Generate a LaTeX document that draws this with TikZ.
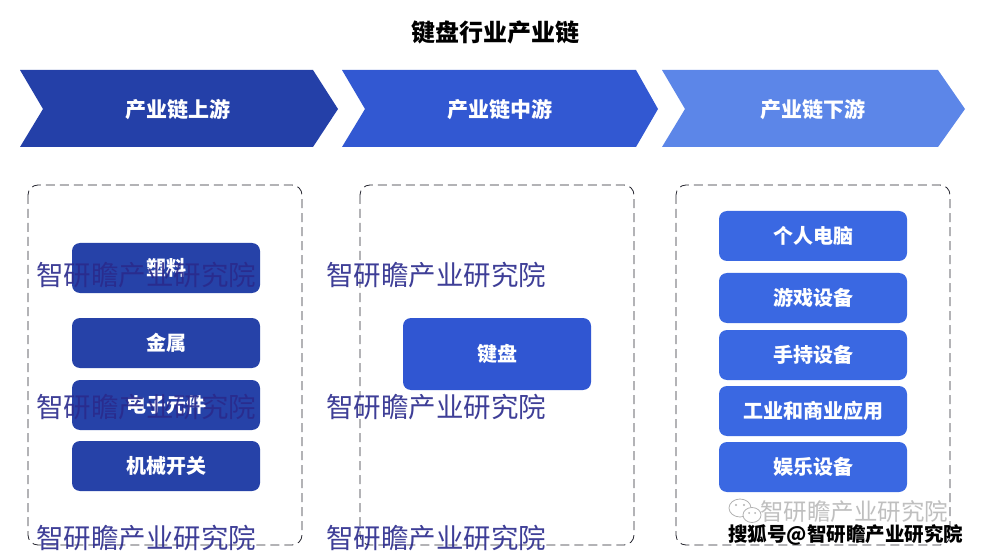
\documentclass[tikz,border=0pt]{standalone}
\usepackage{fontspec}
\setmainfont{Noto Sans CJK SC}
\usetikzlibrary{shapes.geometric}
\definecolor{upc}{RGB}{36,64,168}
\definecolor{midc}{RGB}{50,88,210}
\definecolor{downc}{RGB}{92,134,232}
\definecolor{boxa}{RGB}{38,66,168}
\definecolor{boxb}{RGB}{48,86,210}
\definecolor{boxc}{RGB}{58,104,226}
\definecolor{wmc}{RGB}{42,42,140}
\definecolor{dashc}{RGB}{40,40,50}
\tikzset{
  chev/.style={font=\bfseries\fontsize{21}{21}\selectfont, text=white},
  item/.style={rounded corners=8pt, minimum width=188pt, minimum height=50pt, inner sep=0pt, text=white, font=\bfseries\fontsize{20}{20}\selectfont, draw=none},
  frame/.style={draw=dashc, dash pattern=on 9pt off 5pt, rounded corners=10pt, line width=0.8pt},
  wm/.style={text=wmc, opacity=0.9, font=\fontsize{27.5}{27.5}\selectfont, inner sep=0pt, anchor=west}
}
\begin{document}
\begin{tikzpicture}[x=1pt,y=-1pt]
\useasboundingbox (0,0) rectangle (983,556);
\fill[white] (0,0) rectangle (983,556);
% title
\node[font=\bfseries\fontsize{24}{24}\selectfont] (title) at (495,32) {键盘行业产业链};
% chevrons
\fill[upc] (20,70) -- (313,70) -- (338,109) -- (313,147) -- (20,147) -- (43,109) -- cycle;
\fill[midc] (342,70) -- (636,70) -- (658,109) -- (636,147) -- (342,147) -- (365,109) -- cycle;
\fill[downc] (662,70) -- (938,70) -- (965,109) -- (938,147) -- (662,147) -- (685,109) -- cycle;
\node[chev] (c1) at (178,110) {产业链上游};
\node[chev] (c2) at (500,110) {产业链中游};
\node[chev] (c3) at (813,110) {产业链下游};
% frames
\draw[frame] (28,185) rectangle (302,545);
\draw[frame] (360,185) rectangle (634,545);
\draw[frame] (676,185) rectangle (950,545);
% upstream items
\node[item, fill=boxa] (a1) at (166,268) {塑料};
\node[item, fill=boxa] (a2) at (166,343) {金属};
\node[item, fill=boxa] (a3) at (166,405) {电子元件};
\node[item, fill=boxa] (a4) at (166,466) {机械开关};
% midstream
\node[item, fill=boxb, minimum height=72pt] (b1) at (497,354) {键盘};
% downstream
\node[item, fill=boxc] (d1) at (813,236) {个人电脑};
\node[item, fill=boxc] (d2) at (813,298) {游戏设备};
\node[item, fill=boxc] (d3) at (813,355) {手持设备};
\node[item, fill=boxc] (d4) at (813,411) {工业和商业应用};
\node[item, fill=boxc] (d5) at (813,467) {娱乐设备};
% watermarks
\node[wm] (w1) at (36,275) {智研瞻产业研究院};
\node[wm] (w2) at (326,275) {智研瞻产业研究院};
\node[wm] (w3) at (36,407) {智研瞻产业研究院};
\node[wm] (w4) at (326,407) {智研瞻产业研究院};
\node[wm] (w5) at (36,538) {智研瞻产业研究院};
\node[wm] (w6) at (326,538) {智研瞻产业研究院};
% wechat icon
\draw[gray!60, line width=0.8pt, fill=white] (740,508) ellipse (11pt and 9pt);
\draw[gray!60, line width=0.8pt, fill=white] (752,515) ellipse (9pt and 7.5pt);
\fill[gray!60] (736,505) circle (1.2pt) (744,505) circle (1.2pt) (749,513) circle (1pt) (755,513) circle (1pt);
\node[text=gray!50, font=\fontsize{23.5}{23.5}\selectfont, anchor=west, inner sep=0pt] (wx) at (760,512) {智研瞻产业研究院};
\node[text=black, font=\bfseries\fontsize{19.5}{19.5}\selectfont, anchor=west, inner sep=0pt] (sh) at (728,535) {搜狐号@智研瞻产业研究院};
\end{tikzpicture}
\end{document}
